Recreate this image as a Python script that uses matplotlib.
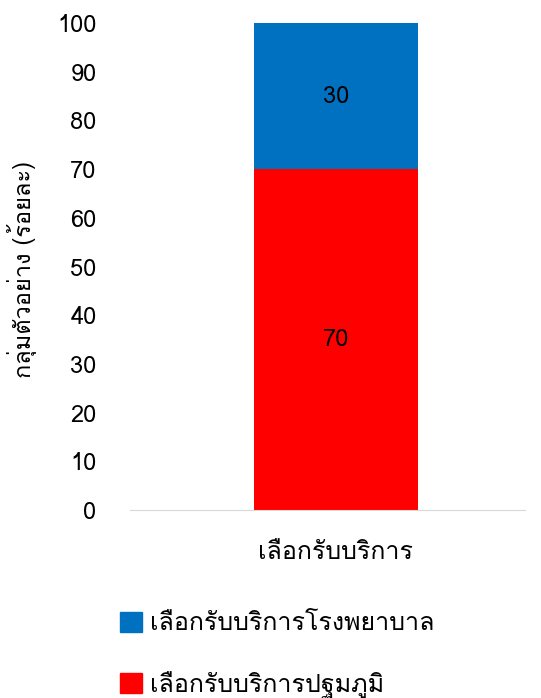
import matplotlib
matplotlib.use("Agg")
import matplotlib.pyplot as plt
from matplotlib import font_manager
from matplotlib.ft2font import FT2Font
from matplotlib.patches import Patch

# pick any installed font that has Thai glyphs
thai_font = None
for f in font_manager.fontManager.ttflist:
    try:
        if 0x0E01 in FT2Font(f.fname).get_charmap():
            thai_font = f.name
            break
    except Exception:
        pass
families = [thai_font, "DejaVu Sans"] if thai_font else ["DejaVu Sans"]
plt.rcParams["font.family"] = families

categories = ["เลือกรับบริการ"]
primary = [70]
hospital = [30]
series_names = ["เลือกรับบริการโรงพยาบาล", "เลือกรับบริการปฐมภูมิ"]
yticks = [0, 10, 20, 30, 40, 50, 60, 70, 80, 90, 100]

blue = "#0070C0"
red = "#FF0000"

fig = plt.figure(figsize=(5.41, 6.98), dpi=100)
ax = fig.add_axes([0.240, 0.2693, 0.730, 0.6977])

x = [0]
b1 = ax.bar(x, primary, width=0.415, color=red)
b2 = ax.bar(x, hospital, width=0.415, bottom=primary, color=blue)
for bars, vals in ((b1, primary), (b2, hospital)):
    for rect, v in zip(bars, vals):
        ax.text(rect.get_x() + rect.get_width() / 2,
                rect.get_y() + rect.get_height() / 2, str(v),
                ha="center", va="center", fontsize=17, color="black")

ax.set_xlim(-0.5215, 0.4785)
ax.set_ylim(0, 100)
ax.set_yticks(yticks)
ax.tick_params(axis="y", length=0, pad=24, labelsize=17)
ax.set_xticks(x)
ax.set_xticklabels(categories)
ax.tick_params(axis="x", length=0, pad=22, labelsize=18)
for s in ("top", "right", "left"):
    ax.spines[s].set_visible(False)
ax.spines["bottom"].set_color("#d9d9d9")
ax.set_ylabel("กลุ่มตัวอย่าง (ร้อยละ)", fontsize=17, va="center")
ax.yaxis.set_label_coords(-0.273, 0.493)

handles = [Patch(color=blue), Patch(color=red)]
fig.legend(handles, series_names, loc="upper left",
           bbox_to_anchor=(0.181, 0.156), frameon=False, fontsize=18,
           handlelength=0.85, handleheight=0.85, handletextpad=0.35,
           labelspacing=1.44)

fig.savefig("out.png", dpi=100)
